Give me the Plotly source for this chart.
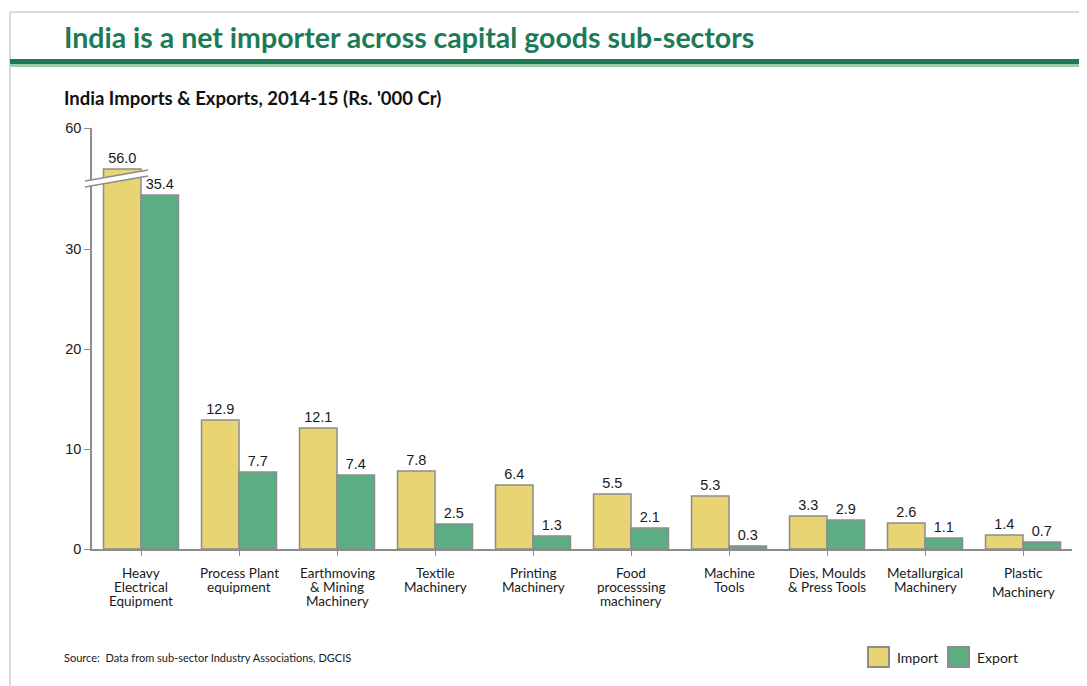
import plotly.graph_objects as go

# ---- data ----
categories = ["Heavy<br>Electrical<br>Equipment", "Process Plant<br>equipment",
              "Earthmoving<br>& Mining<br>Machinery", "Textile<br>Machinery",
              "Printing<br>Machinery", "Food<br>processsing<br>machinery",
              "Machine<br>Tools", "Dies, Moulds<br>& Press Tools",
              "Metallurgical<br>Machinery", "Plastic<br>Machinery"]
imports = [56.0, 12.9, 12.1, 7.8, 6.4, 5.5, 5.3, 3.3, 2.6, 1.4]
exports = [35.4, 7.7, 7.4, 2.5, 1.3, 2.1, 0.3, 2.9, 1.1, 0.7]
y_tick_values = [0, 10, 20, 30, 60]
series_names = ["Import", "Export"]

# ---- broken axis mapping ----
BREAK = 36.0          # values above this are compressed
ABOVE_SCALE = 0.1     # compression factor above the break
AXIS_TOP = 42.1       # display units at the top of the axis (labelled 60)

def display(v):
    return v if v <= BREAK else BREAK + (v - BREAK) * ABOVE_SCALE

def tick_pos(t):
    return AXIS_TOP if t > BREAK else t

OFF = 8  # page body margin
W, H = 1079, 678
ML, MT = 92 - OFF, 128 - OFF
MR = W - (1072 - OFF)
MB = H - (549 - OFF)
PW, PH = W - ML - MR, H - MT - MB

def px(x):  # page pixel -> paper
    return (x - OFF - ML) / PW

def py(y):
    return (H - MB - (y - OFF)) / PH

IMPORT_COLOR = "#E8D473"
EXPORT_COLOR = "#5BAE82"
OUTLINE = "#8C8C8C"
NUM_FONT = dict(family="Liberation Sans, Arial", size=14.5, color="#1a1a1a")
LBL_FONT = dict(family="Lato", size=13.5, color="#1a1a1a")

fig = go.Figure()
for name, vals, col in [(series_names[0], imports, IMPORT_COLOR),
                        (series_names[1], exports, EXPORT_COLOR)]:
    fig.add_trace(go.Bar(
        name=name, x=list(range(len(categories))), y=[display(v) for v in vals],
        text=[f"{v:.1f}" for v in vals], textposition="outside",
        textfont=NUM_FONT, cliponaxis=False, constraintext="none",
        marker=dict(color=col, line=dict(color=OUTLINE, width=1.5)),
        showlegend=False,
    ))

annotations = []
# category labels, line by line
for i, lab in enumerate(categories):
    lines = lab.split("<br>")
    gap = 18.5 if lab.startswith("Plastic") else 13.8
    for j, line in enumerate(lines):
        annotations.append(dict(
            x=i, xref="x", y=0, yref="paper", yanchor="middle", xanchor="center",
            yshift=-(24 + j * gap), text=line, showarrow=False, font=LBL_FONT))

annotations += [
    dict(x=px(62), y=py(37), xref="paper", yref="paper", xanchor="left", yanchor="middle",
         text="<b>India is a net importer across capital goods sub-sectors</b>",
         showarrow=False, font=dict(family="Lato", size=28.5, color="#1B7B57")),
    dict(x=px(62), y=py(98), xref="paper", yref="paper", xanchor="left", yanchor="middle",
         text="<b>India Imports &amp; Exports, 2014-15 (Rs. '000 Cr)</b>",
         showarrow=False, font=dict(family="Lato", size=18.5, color="#111111")),
    dict(x=px(62), y=py(657), xref="paper", yref="paper", xanchor="left", yanchor="middle",
         text="Source:  Data from sub-sector Industry Associations, DGCIS",
         showarrow=False, font=dict(family="Lato", size=11, color="#1a1a1a")),
]

# manual legend
legend_items = [(series_names[0], IMPORT_COLOR, 868), (series_names[1], EXPORT_COLOR, 948)]
shapes = []
for name, col, lx in legend_items:
    shapes.append(dict(type="rect", xref="paper", yref="paper",
                       x0=px(lx), x1=px(lx + 21), y0=py(667), y1=py(647),
                       fillcolor=col, line=dict(color=OUTLINE, width=2), layer="above"))
    annotations.append(dict(x=px(lx + 27), y=py(657), xref="paper", yref="paper",
                            xanchor="left", yanchor="middle", text=name, showarrow=False,
                            font=dict(family="Lato", size=14, color="#1a1a1a")))

# break marker geometry
bx0, bx1 = 85, 148
def yd(v):  # display value -> paper
    return v / AXIS_TOP
ua, ub = 36.8, 37.9   # upper line display heights (left,right)
la, lb = 36.2, 37.3   # lower line
shapes += [
    # frame
    dict(type="line", xref="paper", yref="paper", x0=px(10), x1=px(1087), y0=py(12), y1=py(12),
         line=dict(color="#DADADA", width=2), layer="above"),
    dict(type="line", xref="paper", yref="paper", x0=px(10), x1=px(10), y0=py(12), y1=py(686),
         line=dict(color="#DADADA", width=2), layer="above"),
    # green rule under title
    dict(type="rect", xref="paper", yref="paper", x0=px(10), x1=px(1087), y0=py(64), y1=py(59),
         fillcolor="#1E7A52", line=dict(width=0), layer="above"),
    dict(type="rect", xref="paper", yref="paper", x0=px(10), x1=px(1087), y0=py(67), y1=py(64),
         fillcolor="#9CCBAA", line=dict(width=0), layer="above"),
    # break: white band + two lines
    dict(type="path", xref="paper", yref="paper",
         path=f"M{px(bx0)},{yd(la)} L{px(bx1)},{yd(lb)} L{px(bx1)},{yd(ub)} L{px(bx0)},{yd(ua)} Z",
         fillcolor="white", line=dict(width=0), layer="above"),
    dict(type="line", xref="paper", yref="paper", x0=px(bx0), x1=px(bx1), y0=yd(ua), y1=yd(ub),
         line=dict(color="#8C8C8C", width=1.5), layer="above"),
    dict(type="line", xref="paper", yref="paper", x0=px(bx0), x1=px(bx1), y0=yd(la), y1=yd(lb),
         line=dict(color="#8C8C8C", width=1.5), layer="above"),
]

fig.update_layout(
    width=W, height=H, margin=dict(l=ML, r=MR, t=MT, b=MB),
    paper_bgcolor="white", plot_bgcolor="white",
    barmode="group", bargap=0.235, bargroupgap=0,
    showlegend=False,
    annotations=annotations, shapes=shapes,
    xaxis=dict(range=[-0.5, len(categories) - 0.5], tickmode="array",
               tickvals=list(range(len(categories))), showticklabels=False,
               ticks="outside", tickson="boundaries", ticklen=5, tickcolor="#8C8C8C",
               showline=True, linecolor="#8C8C8C", linewidth=1.5, showgrid=False,
               zeroline=False),
    yaxis=dict(range=[0, AXIS_TOP], tickmode="array",
               tickvals=[tick_pos(t) for t in y_tick_values],
               ticktext=[str(t) for t in y_tick_values],
               ticks="outside", ticklen=6, tickcolor="#8C8C8C", tickfont=NUM_FONT,
               showline=True, linecolor="#8C8C8C", linewidth=1.5, showgrid=False,
               zeroline=False),
)

fig.write_html("out.html")
